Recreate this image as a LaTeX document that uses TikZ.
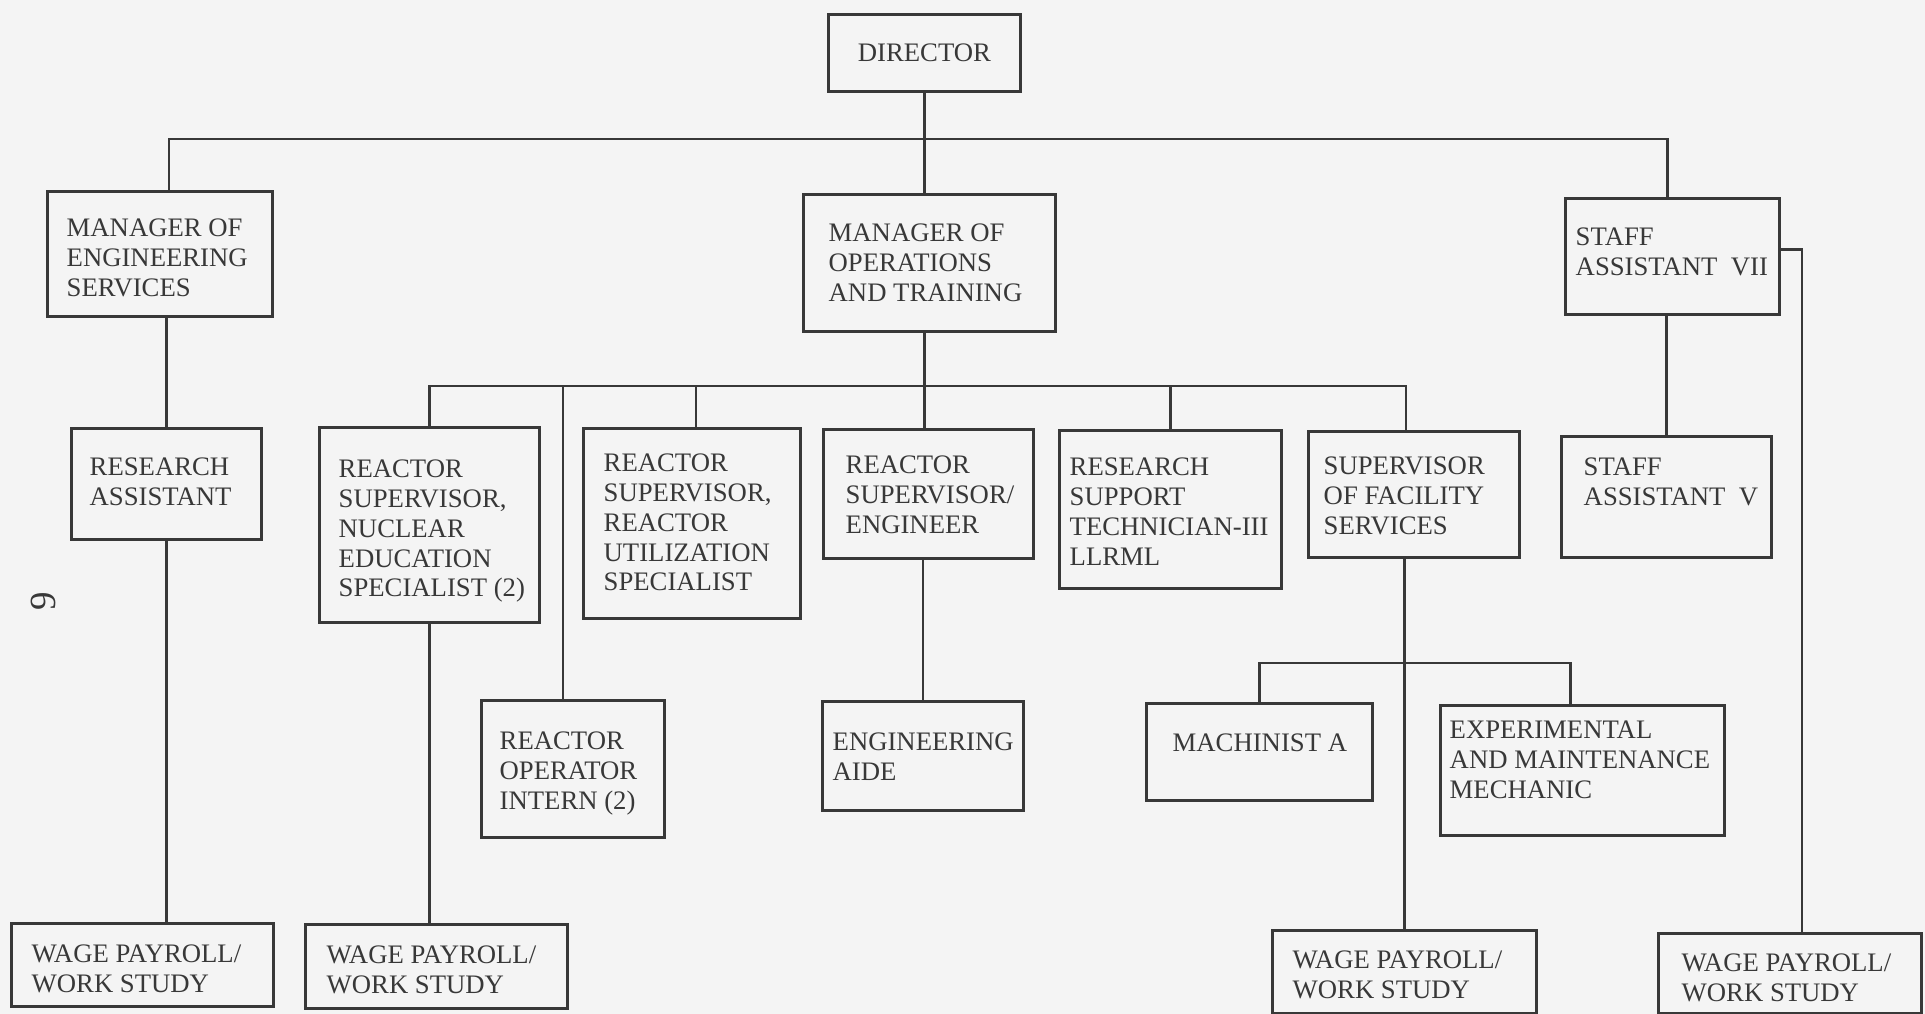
\documentclass[tikz,border=0pt]{standalone}
\usepackage{fontspec}
\setmainfont{Liberation Serif}

\definecolor{ink}{gray}{0.22}
\definecolor{paper}{gray}{0.955}
\newcommand{\chartfont}{\fontsize{7.6}{8.5}\selectfont}

\tikzset{
  unit/.style={draw=ink, line width=0.8pt, anchor=north west, inner sep=0pt},
  tag/.style={text=ink, font=\chartfont, align=left, anchor=north west, inner sep=0pt},
  link/.style={draw=ink, line width=0.8pt}
}

\begin{document}
\begin{tikzpicture}
\fill[paper] (0,0) rectangle (19.25,-10.14);
\useasboundingbox (0,0) rectangle (19.25,-10.14);

% top level
\node[unit, minimum width=1.92cm, minimum height=0.77cm, font=\chartfont, text=ink] (dir) at (8.27,-0.13) {DIRECTOR};

\node[unit, minimum width=2.25cm, minimum height=1.25cm] (mes) at (0.46,-1.90) {};
\node[tag] (mes-t) at ([shift={(0.20,-0.28)}]mes.north west) {MANAGER OF\\ENGINEERING\\SERVICES};

\node[unit, minimum width=2.52cm, minimum height=1.37cm] (mot) at (8.02,-1.93) {};
\node[tag] (mot-t) at ([shift={(0.26,-0.30)}]mot.north west) {MANAGER OF\\OPERATIONS\\AND TRAINING};

\node[unit, minimum width=2.14cm, minimum height=1.16cm] (sa7) at (15.64,-1.97) {};
\node[tag] (sa7-t) at ([shift={(0.11,-0.30)}]sa7.north west) {STAFF\\ASSISTANT\ \ VII};

% second level
\node[unit, minimum width=1.90cm, minimum height=1.11cm] (ra) at (0.70,-4.27) {};
\node[tag] (ra-t) at ([shift={(0.19,-0.30)}]ra.north west) {RESEARCH\\ASSISTANT};

\node[unit, minimum width=2.20cm, minimum height=1.95cm] (rsne) at (3.18,-4.26) {};
\node[tag] (rsne-t) at ([shift={(0.20,-0.33)}]rsne.north west) {REACTOR\\SUPERVISOR,\\NUCLEAR\\EDUCATION\\SPECIALIST (2)};

\node[unit, minimum width=2.17cm, minimum height=1.90cm] (rsru) at (5.82,-4.27) {};
\node[tag] (rsru-t) at ([shift={(0.21,-0.26)}]rsru.north west) {REACTOR\\SUPERVISOR,\\REACTOR\\UTILIZATION\\SPECIALIST};

\node[unit, minimum width=2.10cm, minimum height=1.29cm] (rse) at (8.22,-4.28) {};
\node[tag] (rse-t) at ([shift={(0.23,-0.27)}]rse.north west) {REACTOR\\SUPERVISOR/\\ENGINEER};

\node[unit, minimum width=2.22cm, minimum height=1.58cm] (rst) at (10.58,-4.29) {};
\node[tag] (rst-t) at ([shift={(0.11,-0.28)}]rst.north west) {RESEARCH\\SUPPORT\\TECHNICIAN-III\\LLRML};

\node[unit, minimum width=2.11cm, minimum height=1.26cm] (sfs) at (13.07,-4.30) {};
\node[tag] (sfs-t) at ([shift={(0.16,-0.26)}]sfs.north west) {SUPERVISOR\\OF FACILITY\\SERVICES};

\node[unit, minimum width=2.10cm, minimum height=1.21cm] (sa5) at (15.60,-4.35) {};
\node[tag] (sa5-t) at ([shift={(0.23,-0.22)}]sa5.north west) {STAFF\\ASSISTANT\ \ V};

% third level
\node[unit, minimum width=1.83cm, minimum height=1.37cm] (roi) at (4.80,-6.99) {};
\node[tag] (roi-t) at ([shift={(0.19,-0.32)}]roi.north west) {REACTOR\\OPERATOR\\INTERN (2)};

\node[unit, minimum width=2.01cm, minimum height=1.09cm] (ea) at (8.21,-7.00) {};
\node[tag] (ea-t) at ([shift={(0.11,-0.32)}]ea.north west) {ENGINEERING\\AIDE};

\node[unit, minimum width=2.26cm, minimum height=0.97cm] (ma) at (11.45,-7.02) {};
\node[tag] (ma-t) at ([shift={(0.27,-0.31)}]ma.north west) {MACHINIST A};

\node[unit, minimum width=2.84cm, minimum height=1.30cm] (em) at (14.39,-7.04) {};
\node[tag] (em-t) at ([shift={(0.10,-0.16)}]em.north west) {EXPERIMENTAL\\AND MAINTENANCE\\MECHANIC};

% wage payroll boxes
\node[unit, minimum width=2.62cm, minimum height=0.83cm] (w1) at (0.10,-9.22) {};
\node[tag] (w1-t) at ([shift={(0.21,-0.22)}]w1.north west) {WAGE PAYROLL/\\WORK STUDY};

\node[unit, minimum width=2.62cm, minimum height=0.84cm] (w2) at (3.04,-9.23) {};
\node[tag] (w2-t) at ([shift={(0.22,-0.22)}]w2.north west) {WAGE PAYROLL/\\WORK STUDY};

\node[unit, minimum width=2.64cm, minimum height=0.83cm] (w3) at (12.71,-9.29) {};
\node[tag] (w3-t) at ([shift={(0.21,-0.21)}]w3.north west) {WAGE PAYROLL/\\WORK STUDY};

\node[unit, minimum width=2.63cm, minimum height=0.80cm] (w4) at (16.57,-9.32) {};
\node[tag] (w4-t) at ([shift={(0.24,-0.21)}]w4.north west) {WAGE PAYROLL/\\WORK STUDY};

% page number
\node[text=ink, font=\fontsize{10.5}{12}\selectfont, rotate=90] (pgno) at (0.43,-6.01) {9};

% connectors
\coordinate (bar) at (0,-1.39);
\coordinate (opsbar) at (0,-3.86);
\coordinate (shopbar) at (0,-6.63);

\draw[link] (dir.south) -- (dir.south |- mot.north);
\draw[link] ([xshift=0.09cm]mes.north) -- ([xshift=0.09cm]mes.north |- bar) -| ([xshift=-0.05cm]sa7.north);
\draw[link] (ra.north |- mes.south) -- (ra.north);
\draw[link] (ra.south) -- (ra.south |- w1.north);

\draw[link] (dir.south |- mot.south) -- (dir.south |- rse.north);
\draw[link] (rsne.north) -- (rsne.north |- opsbar) -| ([xshift=-0.08cm]sfs.north);
\draw[link] ([xshift=-0.10cm]roi.north |- opsbar) -- ([xshift=-0.10cm]roi.north);
\draw[link] ([xshift=0.04cm]rsru.north |- opsbar) -- ([xshift=0.04cm]rsru.north);
\draw[link] (rst.north |- opsbar) -- (rst.north);
\draw[link] (rsne.south) -- (rsne.south |- w2.north);
\draw[link] (ea.north |- rse.south) -- (ea.north);

\draw[link] (w3.north |- sfs.south) -- (w3.north);
\draw[link] (ma.north) -- (ma.north |- shopbar) -- ([xshift=-0.12cm]em.north |- shopbar) -- ([xshift=-0.12cm]em.north);

\draw[link] (sa5.north |- sa7.south) -- (sa5.north);
\draw[link] ([yshift=0.07cm]sa7.east) -| ([xshift=0.12cm]w4.north);
\end{tikzpicture}
\end{document}
